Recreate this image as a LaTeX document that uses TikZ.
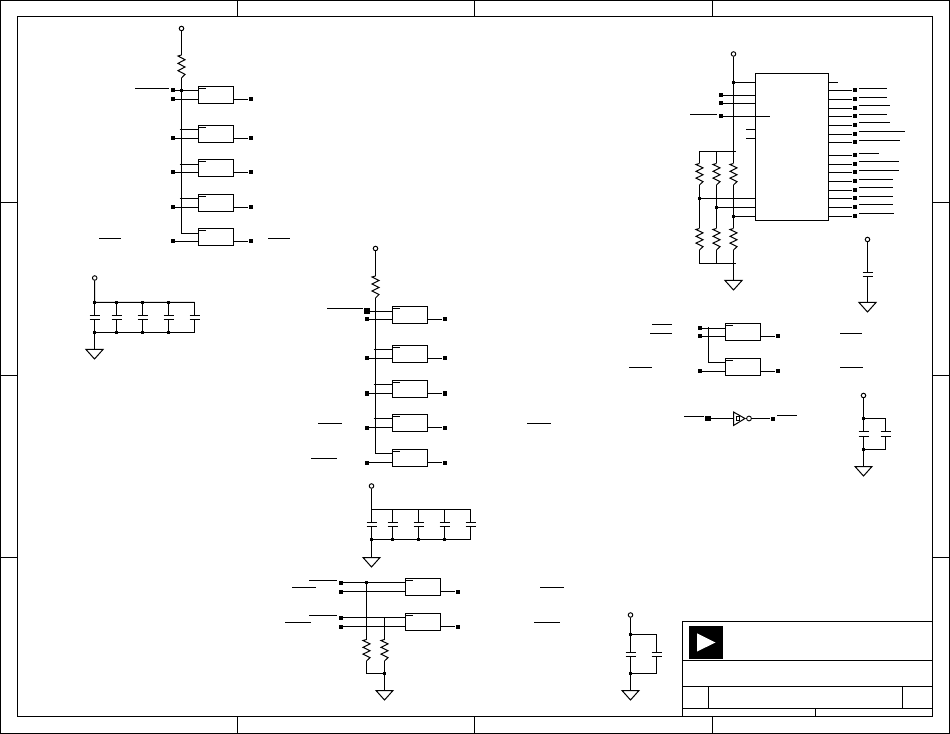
\documentclass[tikz,border=0pt]{standalone}
\tikzset{
 wire/.style={line width=0.75pt,line cap=butt},
 gatebox/.style={draw,line width=0.75pt,fill=white,inner sep=0pt,outer sep=0pt,minimum width=26.25pt,minimum height=12.75pt},
 termpad/.style={fill=black,draw=none,inner sep=0pt,minimum size=3pt,rectangle},
 bigpad/.style={fill=black,draw=none,inner sep=0pt,minimum size=3.8pt,rectangle},
 supply/.style={draw,fill=white,circle,line width=0.7pt,inner sep=0pt,minimum size=3.4pt},
 jdot/.style={fill=black,draw=none,inner sep=0pt,minimum size=1.6pt,rectangle},
 overbar/.style={line width=0.75pt},
 frameline/.style={line width=0.75pt},
}
\newcommand\gatecell[6]{%
 \node[gatebox] (#1) at (#3,#5) {};
 \node[termpad] (#1-in) at (#2,#6) {};
 \node[termpad] (#1-out) at (#4,#6) {};
 \draw[wire] (#1-in) -- (#1-in -| #1.west);
 \draw[wire] (#1.east |- #1-out) -- (#1-out);
 \draw[overbar] ([yshift=-1.5pt]#1.north west) -- ++(7,0);
}
\newcommand\resistor[4]{%
 \coordinate (#1-t) at (#2,#3);
 \coordinate (#1-b) at (#2,#4);
 \pgfmathsetmacro\rs{(#4-#3)/22}
 \draw[wire,shift={(#2,#3)},yscale=\rs] (0,0)--(-3.5,1)--(3.5,4.5)--(-3.5,8)--(3.5,11.5)--(-3.5,15)--(3.5,18.5)--(0,22);
}
\newcommand\capa[5]{%
 \draw[wire] (#1,#2)--(#1,#3) ({#1-5},#3)--({#1+5},#3) ({#1-5},#4)--({#1+5},#4) (#1,#4)--(#1,#5);
}
\newcommand\gnd[3]{%
 \coordinate (#1) at (#2,#3);
 \draw[wire] ({#2-8.5},#3)--({#2+8.5},#3)--(#2,{#3+9.5})--cycle;
}
\newcommand\jd[2]{\node[jdot] at (#1,#2) {};}
\newcommand\obar[3]{\draw[overbar] (#1,#3)--(#2,#3);}
\begin{document}
\begin{tikzpicture}[x=0.75pt,y=-0.75pt]
\useasboundingbox (0,0) rectangle (950,734);
\fill[white] (0,0) rectangle (950,734);
\draw[frameline] (0.5,0.5) rectangle (949.5,733.5);
\draw[frameline] (17.5,16.5) rectangle (932.5,716.5);
\foreach \x in {237.5,474.5,712.5}{
 \draw[frameline] (\x,0.5)--(\x,16.5);
 \draw[frameline] (\x,716.5)--(\x,733.5);
}
\foreach \y in {202.5,375.5,557.5}{
 \draw[frameline] (0.5,\y)--(17.5,\y);
 \draw[frameline] (932.5,\y)--(949.5,\y);
}
\coordinate (tbtl) at (682.5,621.5);
\coordinate (tbbr) at (932.5,716.5);
\draw[frameline] (tbtl) rectangle (tbbr);
\draw[frameline] (682.5,660.5)--(932.5,660.5);
\draw[frameline] (682.5,686.5)--(932.5,686.5);
\draw[frameline] (682.5,708.5)--(932.5,708.5);
\draw[frameline] (708.5,686.5)--(708.5,708.5);
\draw[frameline] (902.5,686.5)--(902.5,708.5);
\draw[frameline] (815.5,708.5)--(815.5,716.5);
\fill[black] (689,626) rectangle (723,659);
\fill[white] (697,633.3)--(715.5,642.5)--(697,651.5)--cycle;

% block A
\node[supply] (vA) at (181.5,28.5) {};
\resistor{rA}{181.5}{55}{78}
\draw[wire] (vA) -- (rA-t);
\gatecell{a1}{172.5}{216}{250.5}{95}{99.5}
\gatecell{a2}{172.5}{216}{250.5}{134}{138.5}
\gatecell{a3}{172.5}{216}{250.5}{168}{172.5}
\gatecell{a4}{172.5}{216}{250.5}{203}{207.5}
\gatecell{a5}{172.5}{216}{250.5}{237}{241.5}
\node[termpad] (a1-i1) at (172.5,90.5) {};
\draw[wire] (rA-b) -- (181.5,233.5) -- (a5.west |- 0,233.5);
\draw[wire] (a1-i1) -- (a1-i1 -| a1.west);
\draw[wire] (179.5,129.5)--(198.5,129.5);
\draw[wire] (179.5,164.5)--(198.5,164.5);
\draw[wire] (179.5,198.5)--(198.5,198.5);
\jd{181.5}{90.5}
\obar{135}{169}{88.5}
\obar{99}{121}{238.5}
\obar{268}{290}{238.5}

% caps 1
\node[supply] (vC1) at (94.7,278) {};
\coordinate (c1t) at (94.5,302.5);
\coordinate (c1b) at (94.5,332.5);
\draw[wire] (vC1)--(c1t)--(194.5,302.5);
\draw[wire] (c1b)--(194.5,332.5);
\foreach \x in {94.5,116.5,142.5,168.5,194.5}{\capa{\x}{302.5}{315.5}{319.5}{332.5}}
\foreach \x in {94.5,116.5,142.5,168.5}{\jd{\x}{302.5}\jd{\x}{332.5}}
\gnd{gC1}{94.5}{349.5}
\draw[wire] (c1b)--(gC1);

% block B
\node[supply] (vB) at (375.5,248.5) {};
\resistor{rB}{375.5}{276}{298}
\draw[wire] (vB) -- (rB-t);
\gatecell{b1}{367}{410}{444.5}{315}{319.5}
\gatecell{b2}{367}{410}{444.5}{354}{358.5}
\gatecell{b3}{367}{410}{444.5}{389}{393.5}
\gatecell{b4}{367}{410}{444.5}{423}{427.5}
\gatecell{b5}{367}{410}{444.5}{458}{462.5}
\node[bigpad] (b1-i1) at (367,311) {};
\draw[wire] (b1-i1.east |- 0,311.5) -- (b1.west |- 0,311.5);
\draw[wire] (rB-b) -- (375.5,453.5) -- (b5.west |- 0,453.5);
\draw[wire] (373.5,349.5)--(392.5,349.5);
\draw[wire] (373.5,384.5)--(392.5,384.5);
\draw[wire] (373.5,418.5)--(392.5,418.5);
\obar{327}{363}{308.5}
\obar{318}{342}{423.5}
\obar{311}{337}{458.5}
\obar{527}{551}{423.5}

% caps 2
\node[supply] (vC2) at (371.5,486) {};
\coordinate (c2t) at (371.5,509.5);
\coordinate (c2b) at (371.5,539.5);
\draw[wire] (vC2)--(c2t)--(470.5,509.5);
\draw[wire] (c2b)--(470.5,539.5);
\foreach \x in {371.5,392.5,418.5,444.5,470.5}{\capa{\x}{509.5}{522.5}{526.5}{539.5}}
\foreach \x in {371.5,392.5,418.5,444.5}{\jd{\x}{539.5}}
\gnd{gC2}{371.5}{557.5}
\draw[wire] (c2b)--(gC2);

% block C
\gatecell{c1}{340.5}{423}{457.5}{587}{591.5}
\gatecell{c2}{340.5}{423}{457.5}{622}{626.5}
\node[termpad] (c1-i1) at (340.5,582.5) {};
\node[termpad] (c2-i1) at (340.5,617.5) {};
\draw[wire] (c1-i1) -- (c1-i1 -| c1.west);
\draw[wire] (c2-i1) -- (c2-i1 -| c2.west);
\resistor{rC1}{366.5}{639.5}{661}
\resistor{rC2}{384.5}{639.5}{661}
\draw[wire] (366.5,582.5) -- (rC1-t);
\draw[wire] (384.5,617.5) -- (rC2-t);
\gnd{gC3}{384.5}{690.5}
\draw[wire] (rC1-b) -- (366.5,673.5) -- (384.5,673.5);
\draw[wire] (rC2-b) -- (gC3);
\jd{366.5}{582.5}\jd{384.5}{673.5}
\obar{309}{337}{580.5}
\obar{292}{316}{587.5}
\obar{309}{337}{615.5}
\obar{285}{311}{622.5}
\obar{540}{564}{587.5}
\obar{534}{560}{622.5}

% caps 3
\node[supply] (vC3) at (630.5,615) {};
\coordinate (c3t) at (630.5,634.5);
\coordinate (c3b) at (630.5,673.5);
\draw[wire] (vC3)--(c3t)--(656.5,634.5);
\draw[wire] (c3b)--(656.5,673.5);
\foreach \x in {630.5,656.5}{\capa{\x}{634.5}{652.5}{656.5}{673.5}}
\jd{630.5}{634.5}\jd{630.5}{673.5}
\gnd{gC4}{630.5}{690.5}
\draw[wire] (c3b)--(gC4);

% IC
\node[draw,line width=0.75pt,inner sep=0pt,outer sep=0pt,minimum width=54.75pt,minimum height=110.25pt] (ic) at (792,147) {};
\node[supply] (vD) at (733.5,54) {};
\resistor{rD1}{699.5}{163.5}{185}
\resistor{rD2}{716.5}{163.5}{185}
\resistor{rD3}{733.5}{163.5}{185}
\resistor{rD4}{699.5}{228.5}{250}
\resistor{rD5}{716.5}{228.5}{250}
\resistor{rD6}{733.5}{228.5}{250}
\draw[wire] (vD) -- (rD3-t);
\draw[wire] (rD3-b) -- (rD6-t);
\draw[wire] (rD1-b) -- (rD4-t);
\draw[wire] (rD2-b) -- (rD5-t);
\draw[wire] (rD1-t) -- (699.5,151.5) -- (736,151.5);
\draw[wire] (716.5,151.5) -- (rD2-t);
\draw[wire] (rD4-b) -- (699.5,263.5) -- (735.5,263.5);
\draw[wire] (rD5-b) -- (716.5,263.5);
\draw[wire] (rD6-b) -- (733.5,280.5);
\gnd{gD}{733.5}{280.5}
\draw[wire] (733.5,82.5) -- (ic.west |- 0,82.5);
\jd{733.5}{82.5}
\node[termpad] (dp1) at (721,95.5) {};
\node[termpad] (dp2) at (721,103.5) {};
\node[termpad] (dp3) at (721,116.5) {};
\draw[wire] (dp1) -- (dp1 -| ic.west);
\draw[wire] (dp2) -- (dp2 -| ic.west);
\draw[wire] (dp3) -- (770,116.5);
\draw[wire] (746,129.5) -- (ic.west |- 0,129.5);
\draw[wire] (746,138.5) -- (ic.west |- 0,138.5);
\draw[wire] (699.5,198.5) -- (ic.west |- 0,198.5);
\draw[wire] (716.5,207.5) -- (ic.west |- 0,207.5);
\draw[wire] (733.5,216.5) -- (ic.west |- 0,216.5);
\jd{699.5}{198.5}\jd{716.5}{207.5}\jd{733.5}{216.5}
\draw[wire] (ic.east |- 0,82.5) -- (838,82.5);
\foreach \y/\e/\yb [count=\i] in {90.5/887/88.5,99.5/887/97.5,108.5/890/105.5,116.5/887/114.5,125.5/890/122.5,134.5/905/131.5,142.5/900/140.5,155.5/879/153.5,164.5/899/161.5,172.5/899/170.5,181.5/893/179.5,190.5/893/187.5,198.5/893/196.5,207.5/893/204.5,216.5/894/213.5}{
 \node[termpad] (dq\i) at (854.5,\y) {};
 \draw[wire] (ic.east |- dq\i) -- (dq\i);
 \draw[overbar] (859,\yb) -- (\e,\yb);
}
\obar{690}{717}{114.5}

% IC cap
\node[supply] (vC4) at (867.5,239.5) {};
\coordinate (c4b) at (867.5,302.5);
\draw[wire] (vC4) -- (867.5,272.5) (862.5,272.5)--(872.5,272.5) (862.5,276.5)--(872.5,276.5) (867.5,276.5) -- (c4b);
\gnd{gC5}{867.5}{302.5}

% block E
\gatecell{e1}{699.5}{743}{777.5}{332}{336.5}
\gatecell{e2}{699.5}{743}{777.5}{367}{371.5}
\node[termpad] (e1-i1) at (699.5,328.5) {};
\draw[wire] (e1-i1) -- (e1-i1 -| e1.west);
\draw[wire] (708.5,327) -- (708.5,362.5) -- (e2.west |- 0,362.5);
\obar{652}{672}{324.5}
\obar{650}{672}{333.5}
\obar{629}{652}{367.5}
\obar{840}{862}{333.5}
\obar{840}{863}{367.5}

% inverter
\node[bigpad] (ia) at (708,418.5) {};
\node[termpad] (ib) at (772.5,418.5) {};
\node[draw,circle,line width=0.65pt,inner sep=0pt,minimum size=3.6pt] (ibub) at (749,418.5) {};
\coordinate (itri) at (733.5,418.5);
\draw[wire] (ia) -- (itri);
\draw[wire] (733.5,412)--(745,418.5)--(733.5,425.5)--cycle;
\draw[line width=0.6pt] (736.5,416.5) rectangle (739.5,420.5);
\draw[wire] (ibub) -- (ib);
\obar{684}{704}{416.5}
\obar{777}{797}{415.5}

% right cap
\node[supply] (vC5) at (863.5,395.5) {};
\coordinate (c5t) at (863.5,418.5);
\coordinate (c5b) at (863.5,449.5);
\draw[wire] (vC5)--(c5t)--(885.5,418.5);
\draw[wire] (c5b)--(885.5,449.5);
\foreach \x in {863.5,885.5}{\capa{\x}{418.5}{431.5}{436.5}{449.5}}
\jd{863.5}{418.5}\jd{863.5}{449.5}
\gnd{gC6}{863.5}{466.5}
\draw[wire] (c5b)--(gC6);
\end{tikzpicture}
\end{document}
